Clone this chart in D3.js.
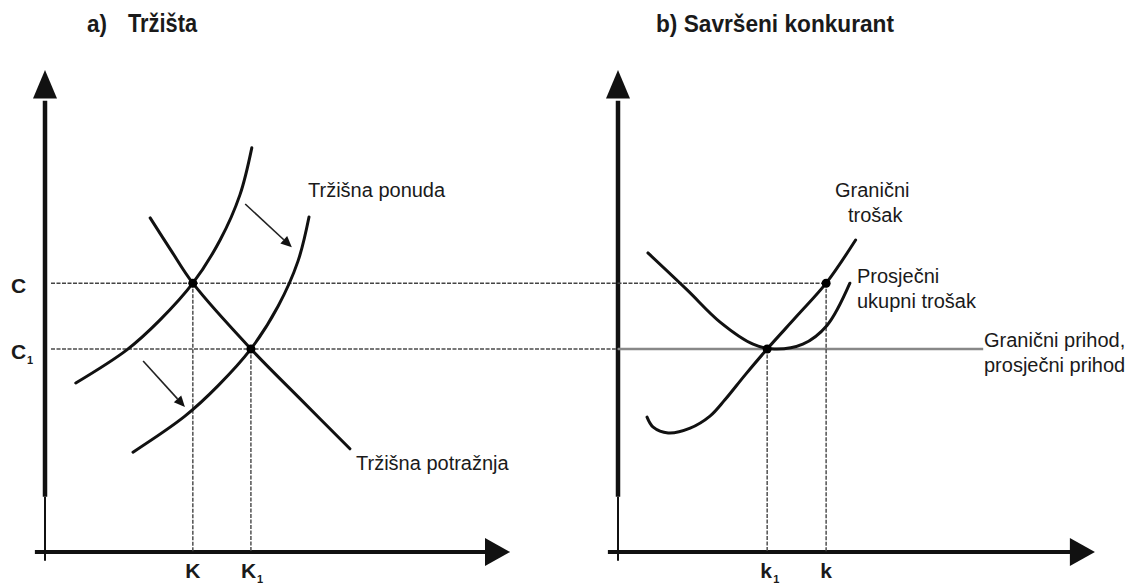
<!DOCTYPE html>
<html>
<head>
<meta charset="utf-8">
<script src="https://cdn.jsdelivr.net/npm/d3@7"></script>
<style>
  body { margin: 0; background: #fff; }
  text { font-family: "Liberation Sans", Arial, sans-serif; fill: #1a1a1a; }
</style>
</head>
<body>
<svg id="chart" width="1137" height="587"></svg>
<script>
// ---- data (price / quantity units, 0..100) ----
const supplyA = [[7.0, 35.2], [18.6, 42.1], [26.1, 48.3], [33.6, 56.0], [39.8, 65.0], [44.3, 74.4], [47.0, 84.2]];
const supplyB = [[20.0, 20.8], [31.8, 28.3], [39.3, 34.6], [46.8, 42.3], [53.0, 51.25], [57.5, 60.6], [60.0, 69.8]];
const demand = [[23.9, 69.6], [28.6, 62.9], [33.6, 56.0], [46.8, 42.3], [58.0, 31.9], [69.3, 21.5]];
const shiftArrows = [[[45.5, 72.5], [56.1, 63.5]], [[22.3, 39.8], [31.8, 30.2]]];
const marginalCost = [[6.6, 28.1], [8.0, 26.0], [11.4, 24.8], [16.4, 25.8], [20.9, 28.3], [24.3, 31.7], [28.9, 36.9], [33.9, 42.3], [40.7, 49.2], [47.3, 56.0], [54.0, 65.0]];
const averageCost = [[6.8, 62.3], [15.7, 54.6], [23.2, 47.9], [30.7, 43.3], [35.5, 42.3], [42.0, 43.3], [47.5, 47.2], [52.7, 56.0]];
const prices = [56.0, 42.3];            // C, C1
const marketQty = [33.6, 46.8];         // K, K1
const firmQty = [33.9, 47.3];           // k1, k
const revenueEnd = 83.0;

const svg = d3.select('#chart');
const W = 4.4, H = 4.8;
const xL = d3.scaleLinear().domain([0, 100]).range([45, 45 + 100 * W]);
const xR = d3.scaleLinear().domain([0, 100]).range([618, 618 + 100 * W]);
const y = d3.scaleLinear().domain([0, 100]).range([552, 552 - 100 * H]);

const ink = '#111';

// ---- axes ----
var drawAxes = (x, xMax) => {
    const g = svg.append('g');
    g.append('line').attr('x1', x(0)).attr('x2', x(0))
        .attr('y1', y(94)).attr('y2', y(11.5)).attr('stroke', ink).attr('stroke-width', 4.5);
    g.append('line').attr('x1', x(0)).attr('x2', x(0))
        .attr('y1', y(11.5)).attr('y2', y(-1.8)).attr('stroke', ink).attr('stroke-width', 2);
    g.append('path').attr('fill', ink)
        .attr('d', `M${x(0)},${y(100.4)} L${x(0) - 12},${y(94.5)} L${x(0) + 12},${y(94.5)} Z`);
    g.append('line').attr('x1', x(-2.3)).attr('x2', x(xMax - 5))
        .attr('y1', y(0)).attr('y2', y(0)).attr('stroke', ink).attr('stroke-width', 4);
    g.append('path').attr('fill', ink)
        .attr('d', `M${x(xMax)},${y(0)} L${x(xMax - 5.7)},${y(0) - 14} L${x(xMax - 5.7)},${y(0) + 14} Z`);
};
drawAxes(xL, 105.7);
drawAxes(xR, 108.4);

// ---- guide lines ----
const guides = svg.append('g').attr('fill', 'none');
guides.append('line')
    .attr('x1', xL(0) + 6).attr('x2', xR(firmQty[1]))
    .attr('y1', y(prices[0])).attr('y2', y(prices[0]))
    .attr('stroke', '#444').attr('stroke-width', 1.4).attr('stroke-dasharray', '4,1.5');
guides.append('line')
    .attr('x1', xL(0) + 6).attr('x2', xR(0))
    .attr('y1', y(prices[1])).attr('y2', y(prices[1]))
    .attr('stroke', '#777').attr('stroke-width', 2).attr('stroke-dasharray', '4,1.5');
guides.append('line')
    .attr('x1', xR(0)).attr('x2', xR(revenueEnd))
    .attr('y1', y(prices[1])).attr('y2', y(prices[1]))
    .attr('stroke', '#888').attr('stroke-width', 2.5);

[[xL, marketQty[0], prices[0]], [xL, marketQty[1], prices[1]],
 [xR, firmQty[0], prices[1]], [xR, firmQty[1], prices[0]]].forEach(([x, q, p]) => {
    guides.append('line')
        .attr('x1', x(q)).attr('x2', x(q))
        .attr('y1', y(p)).attr('y2', y(0))
        .attr('stroke', '#444').attr('stroke-width', 1.4).attr('stroke-dasharray', '4,1.5');
});

// ---- curves ----
const curve = (x, data) => d3.line()
    .x(d => x(d[0])).y(d => y(d[1]))
    .curve(d3.curveCatmullRom.alpha(0.5))(data);

const curves = svg.append('g').attr('fill', 'none').attr('stroke', ink)
    .attr('stroke-width', 3).attr('stroke-linecap', 'round');
curves.append('path').attr('d', curve(xL, supplyA));
curves.append('path').attr('d', curve(xL, supplyB));
curves.append('path').attr('d', curve(xL, demand));
curves.append('path').attr('d', curve(xR, marginalCost));
curves.append('path').attr('d', curve(xR, averageCost));

// shift arrows
shiftArrows.forEach(([a, b]) => {
    const x1 = xL(a[0]), y1 = y(a[1]), x2 = xL(b[0]), y2 = y(b[1]);
    const ang = Math.atan2(y2 - y1, x2 - x1), len = 11, hw = 5;
    const bx = x2 - len * Math.cos(ang), by = y2 - len * Math.sin(ang);
    svg.append('line').attr('x1', x1).attr('y1', y1).attr('x2', bx).attr('y2', by)
        .attr('stroke', '#222').attr('stroke-width', 1.6);
    svg.append('path').attr('fill', '#111')
        .attr('d', `M${x2},${y2} L${bx - hw * Math.sin(ang)},${by + hw * Math.cos(ang)} L${bx + hw * Math.sin(ang)},${by - hw * Math.cos(ang)} Z`);
});

// equilibrium points
const dots = [[xL, marketQty[0], prices[0]], [xL, marketQty[1], prices[1]],
              [xR, firmQty[0], prices[1]], [xR, firmQty[1], prices[0]]];
svg.append('g').selectAll('circle').data(dots).enter().append('circle')
    .attr('cx', d => d[0](d[1])).attr('cy', d => y(d[2])).attr('r', 4.5).attr('fill', '#000');

// ---- text ----
const label = (x, yy, txt, opts = {}) => {
    const t = svg.append('text').attr('x', x).attr('y', yy)
        .attr('font-size', opts.size || 20).attr('font-weight', opts.weight || 'normal')
        .attr('text-anchor', opts.anchor || 'start').text(txt);
    if (opts.len) t.attr('textLength', opts.len).attr('lengthAdjust', 'spacingAndGlyphs');
    return t;
};
const sub = (x, yy, main, s, gap = 16) => {
    label(x, yy, main, { size: 21, weight: 'bold' });
    label(x + gap, yy + 5, s, { size: 11, weight: 'bold' });
};

label(87, 32, 'a)', { size: 24, weight: 'bold', len: 20 });
label(128, 32, 'Tržišta', { size: 25, weight: 'bold', len: 69 });
label(656, 32, 'b) Savršeni konkurant', { size: 24, weight: 'bold', len: 238 });

sub(11, y(prices[0]) + 10, 'C', '');
sub(11, y(prices[1]) + 10, 'C', '1');
label(xL(marketQty[0]), 578, 'K', { size: 21, weight: 'bold', anchor: 'middle' });
sub(xL(marketQty[1]) - 10, 578, 'K', '1');
sub(xR(firmQty[0]) - 7, 578, 'k', '1', 13);
label(xR(firmQty[1]), 578, 'k', { size: 21, weight: 'bold', anchor: 'middle' });

label(308, 197, 'Tržišna ponuda');
label(356, 470, 'Tržišna potražnja');
label(835, 197, 'Granični');
label(848, 222, 'trošak');
label(857, 283, 'Prosječni');
label(857, 308, 'ukupni trošak');
label(984, 347, 'Granični prihod,');
label(984, 372, 'prosječni prihod');
</script>
</body>
</html>
